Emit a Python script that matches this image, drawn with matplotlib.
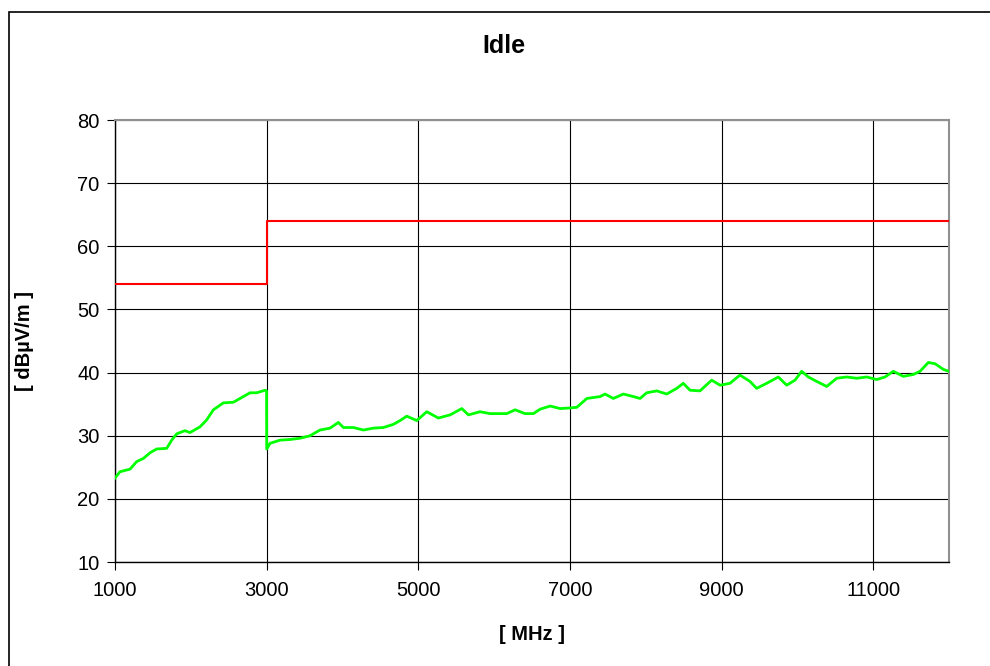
import matplotlib
matplotlib.use("Agg")
import matplotlib.pyplot as plt
from matplotlib.patches import Rectangle

plt.rcParams["font.family"] = ["Liberation Sans", "DejaVu Sans"]

freq = [1000, 1066, 1198, 1286, 1374, 1462, 1550, 1682, 1748, 1814,
        1923, 1989, 2121, 2209, 2297, 2429, 2561, 2649, 2781, 2869,
        2979, 2999, 3001, 3045, 3177, 3309, 3441, 3573, 3704, 3836,
        3946, 4012, 4144, 4276, 4408, 4540, 4672, 4760, 4848, 4980,
        5112, 5265, 5420, 5574, 5661, 5815, 5947, 6035, 6167, 6277,
        6409, 6519, 6607, 6739, 6871, 7003, 7091, 7223, 7398, 7464,
        7573, 7705, 7837, 7925, 8013, 8145, 8277, 8409, 8496, 8584,
        8716, 8870, 8980, 9111, 9243, 9375, 9463, 9595, 9749, 9859,
        9969, 10057, 10145, 10255, 10387, 10519, 10651, 10783, 10915, 11047,
        11156, 11266, 11398, 11530, 11618, 11728, 11817, 11926, 12000]
level = [23.3, 24.3, 24.7, 25.9, 26.4, 27.3, 27.9, 28.0, 29.3, 30.3,
         30.8, 30.5, 31.4, 32.5, 34.1, 35.2, 35.3, 35.9, 36.8, 36.8,
         37.2, 37.1, 27.9, 28.8, 29.3, 29.4, 29.6, 30.0, 30.9, 31.2,
         32.1, 31.3, 31.3, 30.9, 31.2, 31.3, 31.8, 32.4, 33.1, 32.4,
         33.8, 32.8, 33.3, 34.3, 33.3, 33.8, 33.5, 33.5, 33.5, 34.1,
         33.5, 33.5, 34.2, 34.7, 34.3, 34.4, 34.5, 35.9, 36.2, 36.6,
         35.9, 36.6, 36.2, 35.9, 36.8, 37.1, 36.6, 37.5, 38.3, 37.2,
         37.1, 38.8, 38.0, 38.3, 39.6, 38.6, 37.5, 38.3, 39.3, 38.0,
         38.8, 40.2, 39.3, 38.6, 37.8, 39.1, 39.3, 39.1, 39.3, 38.9,
         39.3, 40.2, 39.4, 39.7, 40.2, 41.6, 41.4, 40.5, 40.2]

# limit line
limit_freq = [1000, 3000, 3000, 12000]
limit_level = [54, 54, 64, 64]

x_ticks = [1000, 3000, 5000, 7000, 9000, 11000]
y_ticks = [10, 20, 30, 40, 50, 60, 70, 80]

fig = plt.figure(figsize=(9.9, 6.66), dpi=100)
ax = fig.add_axes([115 / 990, 1 - 562 / 666, 834 / 990, 442 / 666])

ax.plot(freq, level, color="#00ff00", lw=2.0, zorder=3)
ax.plot(limit_freq, limit_level, color="#ff0000", lw=1.5, zorder=3)

ax.set_xlim(1000, 12000)
ax.set_ylim(10, 80)
ax.set_xticks(x_ticks)
ax.set_yticks(y_ticks)
ax.grid(True, color="black", lw=0.8)
ax.tick_params(direction="out", length=6, width=0.8, labelsize=14.5,
               colors="black")
ax.tick_params(axis="x", pad=8)
ax.tick_params(axis="y", pad=5)

for side in ["top", "right"]:
    ax.spines[side].set_color("#909090")
    ax.spines[side].set_linewidth(1.5)
for side in ["left", "bottom"]:
    ax.spines[side].set_color("black")
    ax.spines[side].set_linewidth(1.0)

fig.text(504 / 990, 1 - 46 / 666, "Idle", ha="center", va="center",
         fontsize=18, fontweight="bold")
fig.text(532 / 990, 1 - 634 / 666, "[ MHz ]", ha="center", va="center",
         fontsize=14.5, fontweight="bold")
fig.text(25 / 990, 1 - 341 / 666, "[ dBµV/m ]", ha="center", va="center",
         rotation=90, fontsize=14.5, fontweight="bold")

# chart area border
fig.patches.append(Rectangle((9 / 990, -0.1), 1.2, 1 - 12 / 666 + 0.1,
                             transform=fig.transFigure, fill=False,
                             edgecolor="black", lw=1.2))

fig.savefig("out.png", dpi=100)
